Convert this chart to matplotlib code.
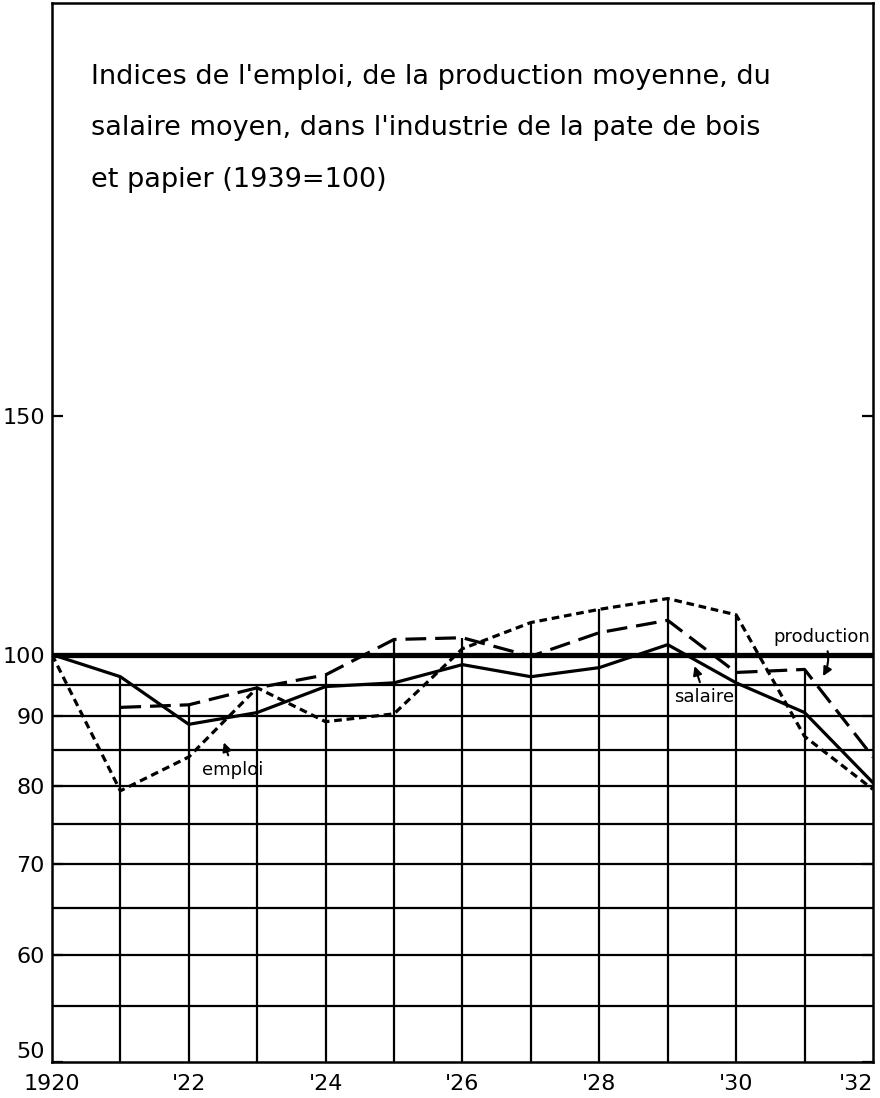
import matplotlib
matplotlib.use("Agg")
import matplotlib.pyplot as plt
import numpy as np

years = np.arange(1920, 1933)
emploi = [100, 79.3, 84, 94.5, 89.2, 90.4, 101, 105.6, 108, 110, 107, 87, 79.5]
production = [np.nan, 91.4, 91.8, 94.5, 96.6, 102.6, 102.9, 99.7, 103.8, 106, 97, 97.5, 84]
salaire = [100, 96.3, 88.8, 90.6, 94.7, 95.3, 98.3, 96.3, 97.8, 101.7, 95.3, 90.6, 80.4]

ytick_vals = [50, 60, 70, 80, 90, 100, 150]
xtick_vals = [1920, 1922, 1924, 1926, 1928, 1930, 1932]
xtick_labels = ['1920', "'22", "'24", "'26", "'28", "'30", "'32"]
grid_levels = [55, 60, 65, 70, 75, 80, 85, 90, 95]

title = ("Indices de l'emploi, de la production moyenne, du\n"
         "salaire moyen, dans l'industrie de la pate de bois\n"
         "et papier (1939=100)")

plt.rcParams['font.family'] = ['DejaVu Sans']

fig = plt.figure(figsize=(8.8, 10.98), dpi=100)
ax = fig.add_axes([0.059, 0.033, 0.933, 0.964])
ax.set_yscale('log')
ax.set_ylim(50, 303)
ax.set_xlim(1920, 1932)

# grid: horizontal lines below 100, vertical lines up to the highest curve
ax.hlines(grid_levels, 1920, 1932, color='black', lw=1.6, zorder=1)
tops = np.nanmax(np.vstack([emploi, production, salaire]), axis=0)
ax.vlines(years[1:-1], 50, tops[1:-1], color='black', lw=1.6, zorder=1)
ax.axhline(100, color='black', lw=3.8, zorder=2)

ax.plot(years, salaire, color='black', lw=2.3, zorder=3)
ax.plot(years, production, color='black', lw=2.3, linestyle=(0, (6.5, 2.8)), zorder=3)
ax.plot(years, emploi, color='black', lw=2.3, linestyle=(0, (2.4, 1.5)), zorder=3)

ax.set_yticks(ytick_vals)
ax.set_yticklabels([str(v) for v in ytick_vals])
ax.yaxis.set_minor_locator(matplotlib.ticker.NullLocator())
ax.tick_params(axis='y', direction='in', length=8, width=1.6, left=True, right=True,
               labelsize=16, pad=5)
for lab in ax.get_yticklabels():
    if lab.get_text() == '50':
        lab.set_va('bottom')
ax.set_xticks(xtick_vals)
ax.set_xticklabels(xtick_labels)
ax.tick_params(axis='x', length=0, labelsize=16, pad=9)
xl = ax.get_xticklabels()
xl[0].set_ha('center')
xl[-1].set_ha('right')

for s in ax.spines.values():
    s.set_linewidth(1.8)

ax.text(0.048, 0.943, title, transform=ax.transAxes, fontsize=19.5, va='top', ha='left',
        linespacing=2.28)

ax.annotate('emploi', xy=(1922.5, 86.5), xytext=(1922.2, 81.5), fontsize=13,
            arrowprops=dict(arrowstyle='-|>', color='black', lw=1.5))
ax.annotate('salaire', xy=(1929.38, 98.5), xytext=(1929.1, 92.3), fontsize=13,
            arrowprops=dict(arrowstyle='-|>', color='black', lw=1.5))
ax.annotate('production', xy=(1931.25, 96.0), xytext=(1930.55, 102.2), fontsize=13,
            arrowprops=dict(arrowstyle='-|>', color='black', lw=1.5,
                            connectionstyle='arc3,rad=-0.3'))

fig.savefig('out.png', dpi=100)
